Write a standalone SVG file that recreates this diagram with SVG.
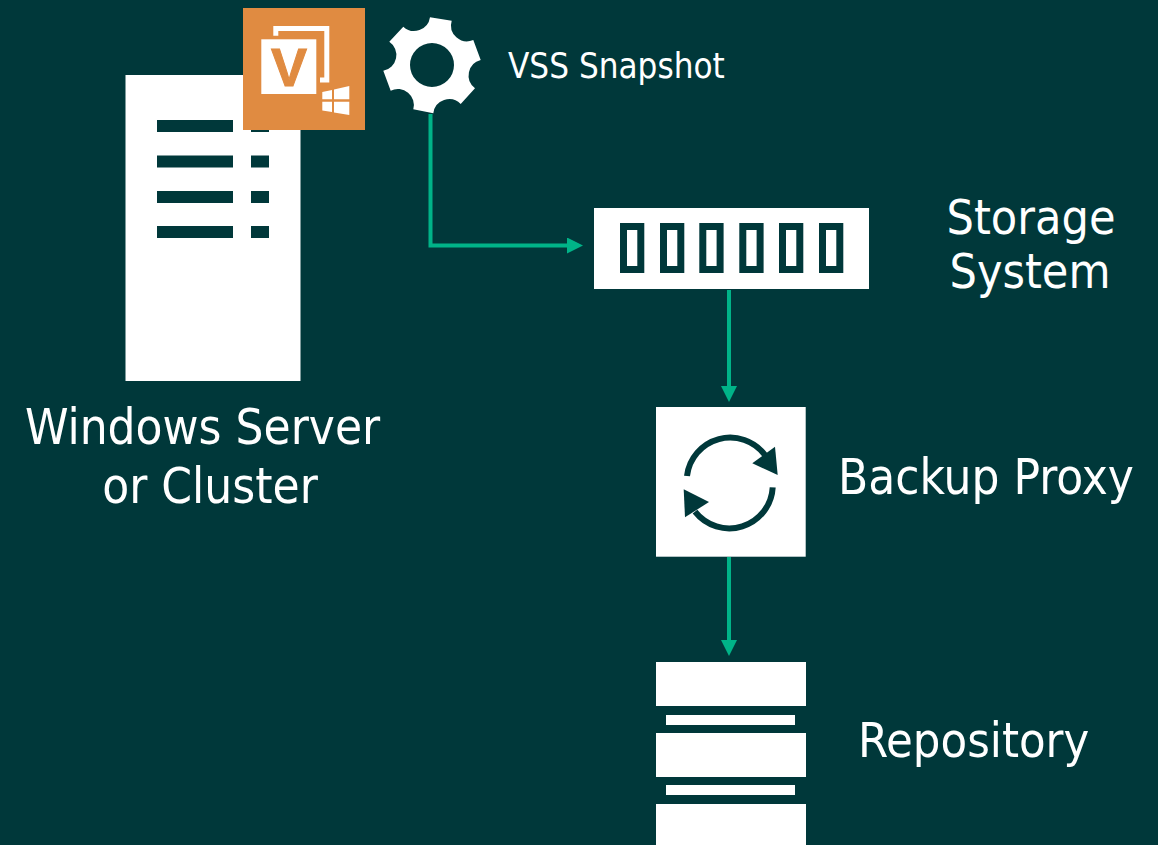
<svg xmlns="http://www.w3.org/2000/svg" width="1158" height="845" viewBox="0 0 1158 845">
<style>
.w{fill:#fff}
.d{fill:#00383a}
.t{fill:#fff;font-family:"DejaVu Sans Condensed","DejaVu Sans",Tahoma,sans-serif;stroke:none}
.c{fill:none;stroke:#00b388;stroke-width:4}
.s{fill:none;stroke:#00383a;stroke-width:7}
.a{fill:#00383a}
.r{fill:none;stroke:#00383a;stroke-width:6}
</style>
<defs>
<marker id="ah" markerUnits="userSpaceOnUse" markerWidth="16" markerHeight="16" refX="2" refY="8" orient="auto"><path d="M0,0L16,8L0,16Z" fill="#00b388"/></marker>
</defs>
<rect width="1158" height="845" class="d"/>
<g id="server">
<rect x="125.5" y="75" width="175" height="306" class="w"/>
<rect x="157" y="120" width="76" height="12" class="d"/><rect x="251" y="120" width="18" height="12" class="d"/>
<rect x="157" y="155.5" width="76" height="12" class="d"/><rect x="251" y="155.5" width="18" height="12" class="d"/>
<rect x="157" y="191" width="76" height="12" class="d"/><rect x="251" y="191" width="18" height="12" class="d"/>
<rect x="157" y="226" width="76" height="12" class="d"/><rect x="251" y="226" width="18" height="12" class="d"/>
<text class="t" x="202.5" y="444" font-size="49" text-anchor="middle">Windows Server</text>
<text class="t" x="210" y="503" font-size="49" text-anchor="middle">or Cluster</text>
</g>
<g id="agent">
<rect x="243" y="8" width="122" height="122" fill="#e08b41"/>
<path d="M275.8,35.7V28.5H326.8V80H320" fill="none" stroke="#fff" stroke-width="5"/>
<rect x="261.3" y="39.3" width="55" height="54.7" class="w"/>
<text x="289" y="86.2" font-size="54" font-weight="700" text-anchor="middle" fill="#e08b41" stroke="#e08b41" stroke-width="1" font-family="'Liberation Sans',Arial,sans-serif">V</text>
<path class="w" d="M322.3,92L332,90V99.3H322.3ZM334,89.5L349.3,86V99.3H334ZM322.3,101.7H332V112L322.3,110.5ZM334,101.7H349.3V115L334,112.5Z"/>
</g>
<g id="vss">
<path class="w" fill-rule="evenodd" d="M430,17.3L451.7,20.7A16,16 0 0 0 473.3,40L480.7,60A16,16 0 0 0 475,88.3L460.7,104A16,16 0 0 0 433.3,113.3L413.3,109.3A16,16 0 0 0 390.7,90.7L383.3,70.7A16,16 0 0 0 389.3,41.7L403.3,26.7A16,16 0 0 0 430,17.3ZM454,65A22,22 0 1 0 410,65A22,22 0 1 0 454,65Z"/>
<text class="t" x="508" y="78" font-size="34.7">VSS Snapshot</text>
</g>
<g id="storage">
<rect x="594" y="208" width="275" height="81" class="w"/>
<rect x="623.5" y="226.5" width="17.3" height="43" class="s"/>
<rect x="663.5" y="226.5" width="17.3" height="43" class="s"/>
<rect x="702.8" y="226.5" width="17.3" height="43" class="s"/>
<rect x="742.8" y="226.5" width="17.3" height="43" class="s"/>
<rect x="782.5" y="226.5" width="17.3" height="43" class="s"/>
<rect x="822.5" y="226.5" width="17.3" height="43" class="s"/>
<text class="t" x="1031" y="233.5" font-size="48" text-anchor="middle">Storage</text>
<text class="t" x="1030" y="287.5" font-size="48" text-anchor="middle">System</text>
</g>
<g id="proxy">
<rect x="656" y="407" width="149.7" height="149.7" class="w"/>
<path class="r" d="M687,476A43.5,43.5 0 0 1 765,455"/>
<path class="a" d="M775,446.7L777.7,475L752.3,463.3Z"/>
<path class="r" d="M772.7,487.3A43.5,43.5 0 0 1 695,511.7"/>
<path class="a" d="M683.7,489.3L709,502L685,517.3Z"/>
<text class="t" x="838" y="494" font-size="49">Backup Proxy</text>
</g>
<g id="repository">
<rect x="656" y="662" width="150" height="44" class="w"/>
<rect x="666" y="715" width="129" height="10" class="w"/>
<rect x="656" y="733" width="150" height="44" class="w"/>
<rect x="666" y="785" width="129" height="10" class="w"/>
<rect x="656" y="804" width="150" height="44" class="w"/>
<text class="t" x="858" y="757" font-size="48.4">Repository</text>
</g>
<g id="connectors">
<path class="c" marker-end="url(#ah)" d="M430.5,114V245.5H569"/>
<path class="c" marker-end="url(#ah)" d="M729,290V388"/>
<path class="c" marker-end="url(#ah)" d="M729,557V642"/>
</g>
</svg>
